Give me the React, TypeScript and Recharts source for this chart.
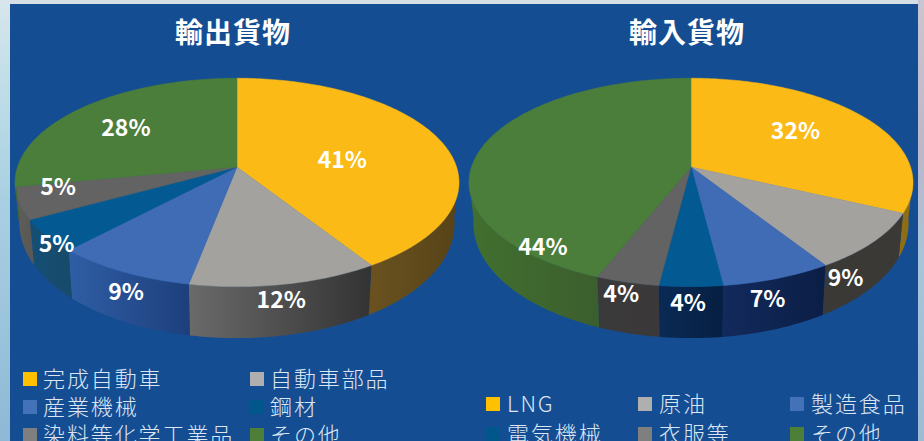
import React from "react";
import { PieChart, Pie, Legend } from "recharts";

const exportNames = ["完成自動車", "自動車部品", "産業機械", "鋼材", "染料等化学工業品", "その他"];
const exportValues = [41, 12, 9, 5, 5, 28];
const importNames = ["LNG", "原油", "製造食品", "電気機械", "衣服等", "その他"];
const importValues = [32, 9, 7, 4, 4, 44];

const topColors = ["#FBBA16", "#A3A29E", "#3F6CB5", "#035A92", "#636363", "#4B7E3A"];
const swatchColors = ["#FFC000", "#AFAFAF", "#4472B8", "#01568C", "#7F7F7F", "#4E7F38"];
const exportSides = [["#6A5220", "#574318"], ["#6A6A6A", "#333333"], ["#2F5EA5", "#1D3F7C"], ["#154F75", "#184A6A"], ["#5F5E5A", "#595754"], ["#3F6C31", "#3B6330"]];
const importSides = [["#8D6D16", "#8D6D16"], ["#3A3936", "#3A3936"], ["#122A5C", "#0B1E45"], ["#0A2A55", "#061F42"], ["#3B3A3A", "#3A3838"], ["#41702F", "#3C5E2E"]];

// label placement along each slice's mid-angle: radius factor, downward shift, sideways shift
const exportLabelR = [0.5, 0.93, 0.97, 0.95, 0.83, 0.7];
const exportLabelDy = [5, 23, 22, 10, -12, 2];
const exportLabelDx = [2, 0, 0, 0, 0, 0];
const importLabelR = [0.59, 0.86, 0.9, 0.9, 1.08, 0.7];
const importLabelDy = [-7, 46, 31, 28, -1, 91];
const importLabelDx = [0, 0, 0, -3, 0, 0];

const P = 0.148;
const KX = 0.989;
const KY = 0.459;
const FONT = '"Noto Sans CJK JP", "Noto Sans", sans-serif';

function project(cx: number, cy: number, R: number, deg: number, r = 1) {
  const t = ((90 - deg) * Math.PI) / 180;
  const u = r * Math.sin(t);
  const v = r * Math.cos(t);
  const w = 1 + P * v;
  return { x: cx + (KX * R * u) / w, y: cy - (KY * R * v) / w, v };
}

function makeShape(sides: string[][], prefix: string) {
  return function Slice(props: any) {
    const { cx, cy, outerRadius: R, startAngle, endAngle, fill } = props;
    const i = props.index ?? props.payload?.idx ?? 0;
    const lo = Math.min(startAngle, endAngle);
    const hi = Math.max(startAngle, endAngle);
    const pts: { x: number; y: number; v: number }[] = [];
    const n = Math.max(4, Math.ceil(hi - lo));
    for (let k = 0; k <= n; k++) pts.push(project(cx, cy, R, lo + ((hi - lo) * k) / n));
    const d = `M${cx},${cy}` + pts.map((p) => `L${p.x.toFixed(2)},${p.y.toFixed(2)}`).join("") + "Z";
    const front = pts.filter((p) => p.v < -0.1);
    let side = "";
    if (front.length > 1) {
      const tops = front.map((p) => `${p.x.toFixed(2)},${p.y.toFixed(2)}`);
      const bottoms = front
        .slice()
        .reverse()
        .map((p) => `${(cx + (p.x - cx) * 0.98).toFixed(2)},${(p.y + 39 - 12.5 * p.v).toFixed(2)}`);
      side = "M" + tops.concat(bottoms).join("L") + "Z";
    }
    const pair = sides[props.payload?.idx ?? i];
    const gid = `${prefix}-${props.payload?.idx ?? i}`;
    return (
      <g>
        <defs>
          <linearGradient id={gid} x1="0" y1="0" x2="1" y2="0">
            <stop offset="0" stopColor={pair[0]} />
            <stop offset="1" stopColor={pair[1]} />
          </linearGradient>
        </defs>
        {side && <path d={side} fill={`url(#${gid})`} stroke="none" />}
        <path d={d} fill={fill} stroke={fill} strokeWidth={0.5} />
      </g>
    );
  };
}

function makeLabel(rs: number[], dys: number[], dxs: number[]) {
  return function SliceLabel(props: any) {
    const { cx, cy, outerRadius: R, midAngle, value } = props;
    const i = props.payload?.idx ?? props.index ?? 0;
    const p = project(cx, cy, R, midAngle, rs[i]);
    return (
      <text x={p.x + dxs[i]} y={p.y + dys[i]} fill="#fff" textAnchor="middle" dominantBaseline="central" fontFamily={FONT} fontSize={23} fontWeight={600}>
        {value}%
      </text>
    );
  };
}

function makeLegend(x0: number, colW: number, cols: number, y0: number, rowH: number, textGap: number) {
  return function LegendGrid(props: any) {
    const payload = props.payload || [];
    return (
      <div style={{ position: "relative", width: 462, height: 441 }}>
        {payload.map((e: any, i: number) => {
          const c = i % cols;
          const r = Math.floor(i / cols);
          const left = x0 + c * colW;
          const mid = y0 + r * rowH;
          return (
            <div key={i}>
              <div style={{ position: "absolute", left, top: mid - 7, width: 14, height: 14, background: swatchColors[i] }} />
              <div style={{ position: "absolute", left: left + textGap, top: mid - 15, height: 26, lineHeight: "26px", fontFamily: FONT, fontWeight: 300, fontSize: 22, letterSpacing: 1.9, color: "#DCE6F2", whiteSpace: "nowrap" }}>
                {e.value}
              </div>
            </div>
          );
        })}
      </div>
    );
  };
}

function Half(p: { left: number; title: string; names: string[]; values: number[]; sides: string[][]; cx: number; rs: number[]; dys: number[]; dxs: number[]; legend: any; id: string }) {
  const rows = p.names.map((name, idx) => ({ name, value: p.values[idx], idx, fill: topColors[idx] }));
  return (
    <div style={{ position: "absolute", left: p.left, top: 0 }}>
      <PieChart width={462} height={441} margin={{ top: 0, right: 0, bottom: 0, left: 0 }}>
        <text x={p.cx - 4} y={31} fill="#fff" textAnchor="middle" dominantBaseline="central" fontFamily={FONT} fontSize={28} fontWeight={700} letterSpacing={1}>
          {p.title}
        </text>
        <Pie
          data={rows}
          dataKey="value"
          nameKey="name"
          cx={p.cx}
          cy={167}
          outerRadius={222}
          startAngle={90}
          endAngle={-270}
          isAnimationActive={false}
          labelLine={false}
          label={makeLabel(p.rs, p.dys, p.dxs)}
          shape={makeShape(p.sides, p.id)}
        />
        <Legend itemSorter={null as any} content={p.legend} wrapperStyle={{ position: "absolute", left: 0, top: 0, width: 462, height: 441, bottom: "auto" }} />
      </PieChart>
    </div>
  );
}

export default function App() {
  return (
    <div style={{ position: "absolute", left: 0, top: 0, width: 924, height: 441, overflow: "hidden", background: "#D6DFE4" }}>
      <div style={{ position: "absolute", left: 0, top: 0, width: 10, height: 441, background: "linear-gradient(180deg,#D8E6EC 0%,#BFDDE8 20%,#A9D0E2 45%,#8FB8D6 100%)" }} />
      <div style={{ position: "absolute", left: 918, top: 0, width: 6, height: 441, background: "linear-gradient(180deg,#C9C6D3 0%,#B9B8CC 35%,#A6C4DC 60%,#9DBBD6 100%)" }} />
      <div style={{ position: "absolute", left: 10, top: 4, width: 908, height: 437, background: "#154D93" }} />
      <Half left={0} title="輸出貨物" names={exportNames} values={exportValues} sides={exportSides} cx={237} rs={exportLabelR} dys={exportLabelDy} dxs={exportLabelDx} legend={makeLegend(23, 227, 2, 379, 28, 20)} id="ex" />
      <Half left={462} title="輸入貨物" names={importNames} values={importValues} sides={importSides} cx={229} rs={importLabelR} dys={importLabelDy} dxs={importLabelDx} legend={makeLegend(24, 152, 3, 404, 29.5, 21)} id="im" />
    </div>
  );
}
